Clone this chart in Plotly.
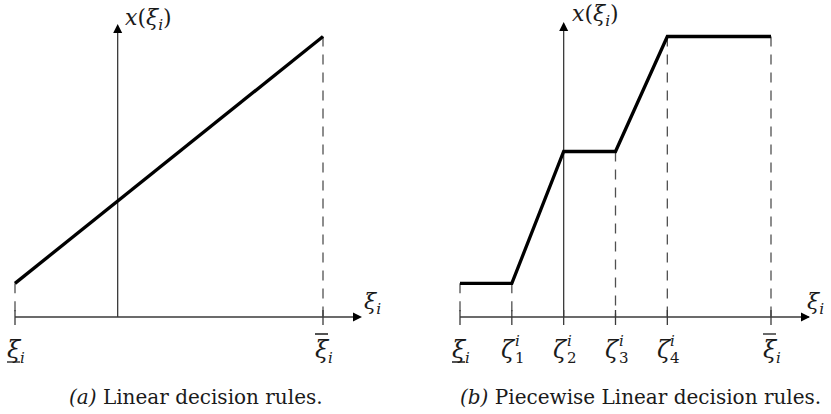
import plotly.graph_objects as go

# ---------------- data ----------------
# (a) linear decision rule: support [lower, upper] of xi_i and rule values
lin_xi = [0, 3]
lin_x = [0.12, 1.0]
lin_axis_at = 1            # where the vertical x(xi_i) axis crosses
lin_ticks = [0, 3]
lin_tick_labels = [("ξ", "i", None, "under"), ("ξ", "i", None, "over")]

# (b) piecewise linear decision rule: breakpoints and rule values
pw_xi = [0, 1, 2, 3, 4, 6]
pw_x = [0.12, 0.12, 0.59, 0.59, 1.0, 1.0]
pw_axis_at = 2
pw_ticks = [0, 1, 2, 3, 4, 6]
pw_tick_labels = [("ξ", "i", None, "under"),
                  ("ζ", "1", "i", None),
                  ("ζ", "2", "i", None),
                  ("ζ", "3", "i", None),
                  ("ζ", "4", "i", None),
                  ("ξ", "i", None, "over")]

captions = ["<i>(a)</i> Linear decision rules.",
            "<i>(b)</i> Piecewise Linear decision rules."]

# ---------------- layout geometry (pixels) ----------------
W, H = 831, 414
AXIS_PY = 317          # pixel row of horizontal axes
TOP_PY = 36.5          # pixel row of rule value 1.0
Y_SCALE = AXIS_PY - TOP_PY
y_range = [(AXIS_PY - H) / Y_SCALE, AXIS_PY / Y_SCALE]

# left panel: xi=0 at px 15; right panel: xi=0 at px 460
L_X0, L_SC = 15.0, 308.0 / 3
R_X0, R_SC = 460.0, 311.0 / 6
half = W / 2
l_range = [(0 - L_X0) / L_SC, (half - L_X0) / L_SC]
r_range = [(half - R_X0) / R_SC, (W - R_X0) / R_SC]

FONT = "DejaVu Serif, Liberation Serif, serif"
INK = "#1a1a1a"
AX_COL = "#3a3a3a"
DASH_COL = "#505050"

fig = go.Figure()


def add_panel(xr, yr, xs, ys, axis_at, ticks, labels, x_tip, y_tip, arrow_lab_dx, top_lab_dx, top_lab_dy):
    # dashed drop lines from rule breakpoints down to the axis
    dx, dy = [], []
    for xv, yv in zip(xs, ys):
        if xv == axis_at:
            continue
        dx += [xv, xv, None]
        dy += [yv, 0, None]
    fig.add_trace(go.Scatter(x=dx, y=dy, mode="lines", xaxis=xr, yaxis=yr,
                             line=dict(color=DASH_COL, width=1.3, dash="10px,8px"),
                             hoverinfo="skip", showlegend=False))
    # tick marks
    tx, ty = [], []
    for t in ticks:
        tx += [t, t, None]
        ty += [7 / Y_SCALE, -8 / Y_SCALE, None]
    fig.add_trace(go.Scatter(x=tx, y=ty, mode="lines", xaxis=xr, yaxis=yr,
                             line=dict(color=AX_COL, width=1.3),
                             hoverinfo="skip", showlegend=False))
    # axis lines
    fig.add_trace(go.Scatter(x=[xs[0], x_tip - 0.02, None, axis_at, axis_at],
                             y=[0, 0, None, 0, y_tip - 0.01],
                             mode="lines", xaxis=xr, yaxis=yr,
                             line=dict(color=AX_COL, width=1.3),
                             hoverinfo="skip", showlegend=False))
    # arrowheads at the axis ends
    fig.add_trace(go.Scatter(x=[x_tip, axis_at], y=[0, y_tip], mode="markers",
                             xaxis=xr, yaxis=yr,
                             marker=dict(symbol=["arrow-right", "arrow-up"], size=9,
                                         color="black", line=dict(width=0)),
                             hoverinfo="skip", showlegend=False))
    # the decision rule itself
    fig.add_trace(go.Scatter(x=xs, y=ys, mode="lines", xaxis=xr, yaxis=yr,
                             line=dict(color="black", width=3.3),
                             hoverinfo="skip", showlegend=False))

    # axis titles
    fig.add_annotation(x=x_tip, y=0, xref=xr, yref=yr, showarrow=False,
                       text="<i>ξ</i><sub><i>i</i></sub>", xanchor="left", yanchor="middle",
                       xshift=arrow_lab_dx, yshift=14, font=dict(family=FONT, size=22, color=INK))
    fig.add_annotation(x=axis_at, y=y_tip, xref=xr, yref=yr, showarrow=False,
                       text="<i>x</i>(<i>ξ</i><sub><i>i</i></sub>)", xanchor="left", yanchor="middle",
                       xshift=top_lab_dx, yshift=top_lab_dy, font=dict(family=FONT, size=22, color=INK))
    # tick labels: base glyph with sub/superscripts and under/over bars
    for t, (base, sub, sup, bar) in zip(ticks, labels):
        bx = -3 if base == "ζ" else -1
        fig.add_annotation(x=t, y=0, xref=xr, yref=yr, showarrow=False,
                           text=f"<i>{base}</i>", xanchor="center", yanchor="middle",
                           xshift=bx, yshift=-33, font=dict(family=FONT, size=24, color=INK))
        if sub:
            fig.add_annotation(x=t, y=0, xref=xr, yref=yr, showarrow=False,
                               text=sub if sub.isdigit() else f"<i>{sub}</i>",
                               xanchor="left", yanchor="middle",
                               xshift=bx + 4, yshift=-41, font=dict(family=FONT, size=15, color=INK))
        if sup:
            fig.add_annotation(x=t, y=0, xref=xr, yref=yr, showarrow=False,
                               text=f"<i>{sup}</i>", xanchor="left", yanchor="middle",
                               xshift=bx + 4, yshift=-24, font=dict(family=FONT, size=15, color=INK))
        if bar:
            yb = -45 if bar == "under" else -17
            fig.add_shape(type="line", xref=xr, yref=yr, xsizemode="pixel", ysizemode="pixel",
                          xanchor=t, yanchor=0, x0=bx - 7, x1=bx + 6, y0=yb, y1=yb,
                          line=dict(color=INK, width=1.3))


add_panel("x", "y", lin_xi, lin_x, lin_axis_at, lin_ticks, lin_tick_labels,
          x_tip=(362 - L_X0) / L_SC, y_tip=(AXIS_PY - 24) / Y_SCALE,
          arrow_lab_dx=0, top_lab_dx=5, top_lab_dy=5)
add_panel("x2", "y2", pw_xi, pw_x, pw_axis_at, pw_ticks, pw_tick_labels,
          x_tip=(810 - R_X0) / R_SC, y_tip=(AXIS_PY - 22) / Y_SCALE,
          arrow_lab_dx=-5, top_lab_dx=6, top_lab_dy=7)

for cx, cap in zip([196, 640], captions):
    fig.add_annotation(x=cx / W, y=1 - 397 / H, xref="paper", yref="paper", showarrow=False,
                       text=cap, xanchor="center", yanchor="middle",
                       font=dict(family=FONT, size=20, color=INK))

hidden = dict(visible=False, showgrid=False, zeroline=False, fixedrange=True)
fig.update_layout(
    width=W, height=H, margin=dict(l=0, r=0, t=0, b=0),
    paper_bgcolor="white", plot_bgcolor="white", showlegend=False,
    xaxis=dict(domain=[0, 0.5], range=l_range, **hidden),
    yaxis=dict(domain=[0, 1], range=y_range, anchor="x", **hidden),
    xaxis2=dict(domain=[0.5, 1], range=r_range, anchor="y2", **hidden),
    yaxis2=dict(domain=[0, 1], range=y_range, anchor="x2", **hidden),
)

fig.write_html("out.html")
